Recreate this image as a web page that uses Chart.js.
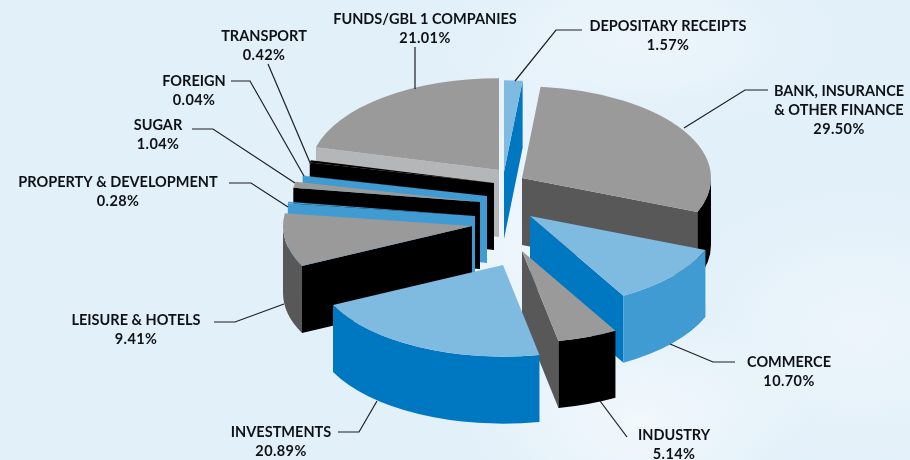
<!DOCTYPE html>
<html>
<head>
<meta charset="utf-8">
<title>Portfolio by sector</title>
<script src="https://cdn.jsdelivr.net/npm/chart.js@4"></script>
<style>
  html, body { margin: 0; padding: 0; }
  body {
    width: 910px;
    height: 460px;
    overflow: hidden;
    background:
      radial-gradient(ellipse 170px 110px at 640px 420px, #f2f8fc 0%, rgba(242,248,252,0) 100%),
      radial-gradient(ellipse 120px 200px at 520px 240px, #eef6fc 0%, rgba(238,246,252,0) 100%),
      radial-gradient(ellipse 200px 140px at 860px 330px, #edf5fb 0%, rgba(237,245,251,0) 100%),
      radial-gradient(ellipse 200px 90px at 640px 40px, #edf5fb 0%, rgba(237,245,251,0) 100%),
      #e2f0f9;
  }
  canvas { display: block; }
</style>
</head>
<body>
<canvas id="pie" width="910" height="460"></canvas>
<script>
const categories = ['DEPOSITARY RECEIPTS', 'BANK, INSURANCE|& OTHER FINANCE', 'COMMERCE', 'INDUSTRY', 'INVESTMENTS',
  'LEISURE & HOTELS', 'PROPERTY & DEVELOPMENT', 'SUGAR', 'FOREIGN', 'TRANSPORT', 'FUNDS/GBL 1 COMPANIES'];
const shares = [1.57, 29.50, 10.70, 5.14, 20.89, 9.41, 0.28, 1.04, 0.04, 0.42, 21.01];

// slice colours
const topColors = ['#7fbae0', '#9a9a9a', '#7fbae0', '#9a9a9a', '#7fbae0', '#9a9a9a', '#3f9bd2', '#9a9a9a', '#3f9bd2', '#000000', '#9a9a9a'];
const rimColors = ['#0078c1', '#000000', '#3f9bd2', '#000000', '#0078c1', '#585858', '#3f9bd2', '#000000', '#3f9bd2', '#000000', '#b5b6b8'];
const cutColors = ['#0078c1', '#585858', '#0078c1', '#585858', '#0078c1', '#000000', '#3f9bd2', '#000000', '#3f9bd2', '#000000', '#b5b6b8'];

// how far each slice is pulled out of the pie, in screen px
const pullX = [4, 22, 30, 22, 3, -28, -25, -20, -13, -6, -1];
const pullY = [-48, -42, -4, 31, 45, 6, -4, -18, -24, -37, -50];

// back to front
const paintOrder = [0, 1, 10, 9, 8, 7, 6, 5, 2, 3, 4];

const squash = 0.485;
const depth = 67;
const pieRadius = 189;
const pieMidY = 220;

// label centre x, first line y
const labelX = [668, 839, 789, 674, 281, 136, 118, 158, 194, 264, 425];
const labelY = [26, 91, 362, 435, 432, 320, 182, 125, 81, 36, 19];
const lineGap = 19;

const leaders = [
  [[582, 30], [556, 30], [515, 81]],
  [[768, 90], [745, 90], [684, 128]],
  [[735, 362], [713, 362], [670, 344]],
  [[600, 401], [627, 437]],
  [[338, 432], [359, 432], [377, 401]],
  [[214, 322], [235, 322], [284, 304]],
  [[229, 183], [251, 183], [288, 207]],
  [[192, 129], [213, 129], [295, 183]],
  [[231, 81], [250, 81], [304, 176]],
  [[268, 64], [311, 165]],
  [[415, 47], [415, 89]]
];

function drawCut(ctx, arc, angle, color) {
  const h = depth / squash;
  const ex = arc.x + Math.cos(angle) * arc.outerRadius;
  const ey = arc.y + Math.sin(angle) * arc.outerRadius;
  ctx.fillStyle = color;
  ctx.beginPath();
  ctx.moveTo(arc.x, arc.y);
  ctx.lineTo(ex, ey);
  ctx.lineTo(ex, ey + h);
  ctx.lineTo(arc.x, arc.y + h);
  ctx.closePath();
  ctx.fill();
}

function drawRim(ctx, arc, color) {
  // only the part of the rim facing the viewer
  const from = Math.max(arc.startAngle, 0);
  const to = Math.min(arc.endAngle, Math.PI);
  if (to <= from) return;
  const h = depth / squash;
  ctx.fillStyle = color;
  ctx.beginPath();
  ctx.arc(arc.x, arc.y, arc.outerRadius, from, to);
  ctx.arc(arc.x, arc.y + h, arc.outerRadius, to, from, true);
  ctx.closePath();
  ctx.fill();
}

const pie3d = {
  id: 'pie3d',
  afterDatasetsUpdate(chart) {
    chart.getDatasetMeta(0).data.forEach((arc, i) => {
      arc.x += pullX[i];
      arc.y += pullY[i] / squash;
    });
  },
  beforeDatasetsDraw(chart) {
    const ctx = chart.ctx;
    const arcs = chart.getDatasetMeta(0).data;
    ctx.save();
    ctx.translate(0, pieMidY);
    ctx.scale(1, squash);
    ctx.translate(0, -pieMidY);
    paintOrder.forEach((i) => {
      const arc = arcs[i];
      if (Math.cos(arc.startAngle) < 0) drawCut(ctx, arc, arc.startAngle, cutColors[i]);
      if (Math.cos(arc.endAngle) > 0) drawCut(ctx, arc, arc.endAngle, cutColors[i]);
      drawRim(ctx, arc, rimColors[i]);
      arc.draw(ctx);
    });
    ctx.restore();
    return false;
  },
  afterDraw(chart) {
    const ctx = chart.ctx;
    ctx.save();
    ctx.strokeStyle = '#1c1f22';
    ctx.lineWidth = 1.2;
    leaders.forEach((pts) => {
      ctx.beginPath();
      pts.forEach((p, k) => (k ? ctx.lineTo(p[0], p[1]) : ctx.moveTo(p[0], p[1])));
      ctx.stroke();
    });
    ctx.fillStyle = '#0e1216';
    ctx.font = '700 14.5px Lato';
    ctx.textAlign = 'center';
    ctx.textBaseline = 'middle';
    categories.forEach((name, i) => {
      const lines = name.split('|');
      lines.forEach((line, k) => ctx.fillText(line, labelX[i], labelY[i] + k * lineGap));
      // the percentages are set a little wider than the names
      ctx.letterSpacing = '0.4px';
      ctx.fillText(shares[i].toFixed(2) + '%', labelX[i], labelY[i] + lines.length * lineGap);
      ctx.letterSpacing = '0px';
    });
    ctx.restore();
  }
};

new Chart(document.getElementById('pie'), {
  type: 'pie',
  data: {
    labels: categories,
    datasets: [{ data: shares, backgroundColor: topColors, borderWidth: 0 }]
  },
  options: {
    responsive: false,
    animation: false,
    radius: pieRadius,
    layout: { padding: { left: 90, bottom: 20 } },
    plugins: { legend: { display: false }, tooltip: { enabled: false } }
  },
  plugins: [pie3d]
});
</script>
</body>
</html>
